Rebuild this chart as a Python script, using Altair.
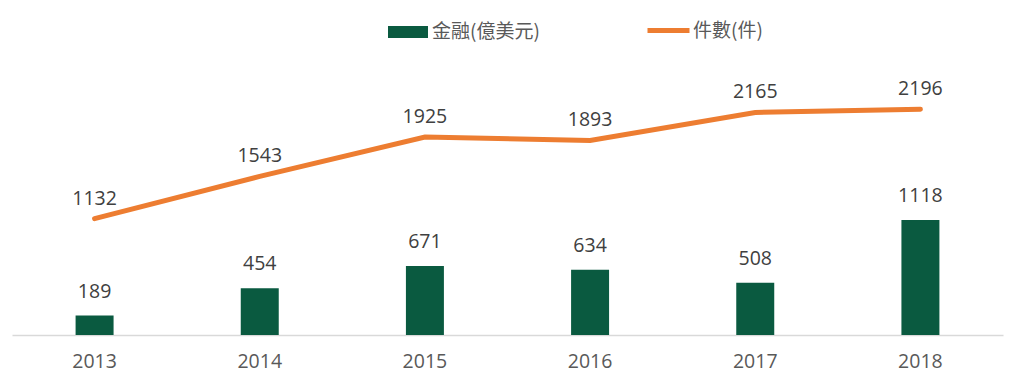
import altair as alt
import pandas as pd

years = ["2013", "2014", "2015", "2016", "2017", "2018"]
finance = [189, 454, 671, 634, 508, 1118]
counts = [1132, 1543, 1925, 1893, 2165, 2196]
bar_name = "金融(億美元)"
line_name = "件數(件)"

df = pd.DataFrame({"year": years, "finance": finance, "count": counts,
                   "s1": bar_name, "s2": line_name})

GREEN = "#0a5a40"
ORANGE = "#ed7d31"
NUMFONT = "Open Sans"
CJK = "Noto Sans CJK TC"

x = alt.X("year:N", title=None,
          scale=alt.Scale(paddingInner=0.77, paddingOuter=0.385),
          axis=alt.Axis(labelAngle=0, ticks=False, domainColor="#d9d9d9", domainWidth=1.5,
                        labelFont=NUMFONT, labelFontSize=19.5, labelColor="#595959",
                        labelPadding=17))
yscale = alt.Scale(domain=[0, 2500])

base = alt.Chart(df)

bars = base.mark_bar(color=GREEN).encode(
    x=x,
    y=alt.Y("finance:Q", scale=yscale, axis=None),
    fill=alt.Fill("s1:N", scale=alt.Scale(domain=[bar_name], range=[GREEN]),
                  legend=alt.Legend(title=None, orient="none", legendX=376, legendY=-66,
                                    symbolType="M-1,-0.3L1,-0.3L1,0.3L-1,0.3Z",
                                    symbolSize=1600, symbolStrokeWidth=0,
                                    labelFont=CJK, labelFontSize=19, labelColor="#595959",
                                    labelOffset=4)),
)

bar_labels = base.mark_text(dy=-24, font=NUMFONT, fontSize=19.5, color="#404040").encode(
    x=x, y=alt.Y("finance:Q", scale=yscale, axis=None), text="finance:Q")

line = base.mark_line(strokeWidth=5, strokeCap="round").encode(
    x=x,
    y=alt.Y("count:Q", scale=yscale, axis=None),
    stroke=alt.Stroke("s2:N", scale=alt.Scale(domain=[line_name], range=[ORANGE]),
                      legend=alt.Legend(title=None, orient="none", legendX=633, legendY=-71,
                                        symbolType="stroke", symbolSize=1764,
                                        symbolStrokeWidth=5,
                                        labelFont=CJK, labelFontSize=19, labelColor="#595959",
                                        labelOffset=1)),
)

line_labels = base.mark_text(dy=-20, font=NUMFONT, fontSize=19.5, color="#404040").encode(
    x=x, y=alt.Y("count:Q", scale=yscale, axis=None), text="count:Q")

chart = alt.layer(bars, bar_labels, line, line_labels).properties(
    width=991, height=257,
    autosize=alt.AutoSizeParams(type="none"),
    padding={"left": 4, "top": 70, "right": 10, "bottom": 40},
).configure_view(stroke=None).configure_axis(grid=False)

chart.save("out.html", embed_options={"renderer": "svg", "actions": False})
